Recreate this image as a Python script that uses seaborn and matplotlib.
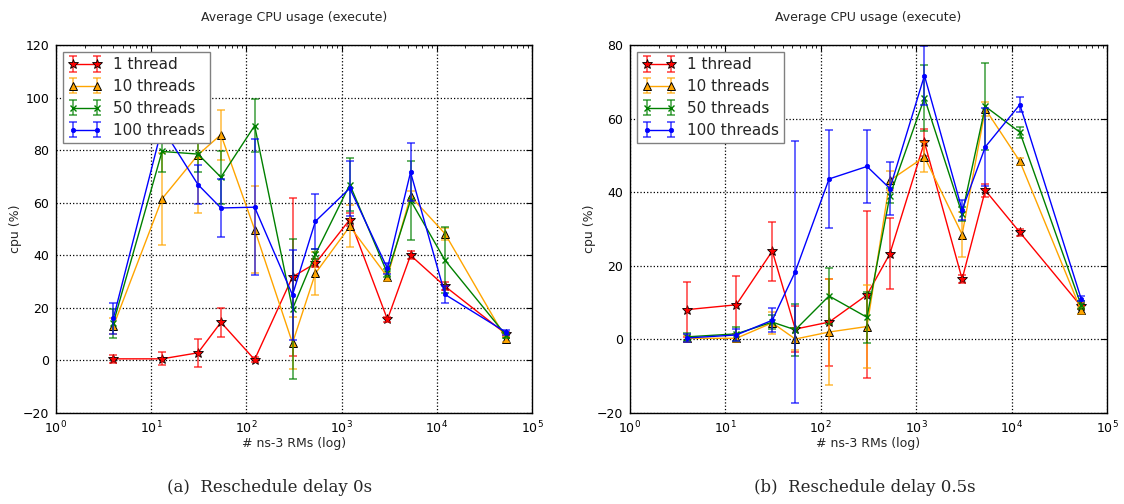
import numpy as np
import pandas as pd
import matplotlib
matplotlib.use("Agg")
import matplotlib.pyplot as plt
import seaborn as sns
from matplotlib.ticker import LogLocator, MultipleLocator, NullLocator, NullFormatter

# ---------------- data ----------------
rms = [4, 13, 31, 54, 122, 305, 530, 1220, 3030, 5300, 12200, 53500]
series = ["1 thread", "10 threads", "50 threads", "100 threads"]

# (a) Reschedule delay 0s
cpu0_t1 = [0.6, 0.6, 2.9, 14.5, 0.3, 31.8, 36.9, 53.6, 15.6, 40.0, 28.2, 10.0]
err0_t1 = [1.5, 2.5, 5.4, 5.6, 1.0, 30.0, 1.5, 2.5, 1.0, 1.5, 1.5, 0.8]
cpu0_t10 = [13.0, 61.5, 78.2, 85.9, 49.8, 6.6, 33.1, 51.0, 31.8, 62.5, 48.2, 8.1]
err0_t10 = [3.0, 17.6, 22.0, 9.5, 16.5, 10.0, 8.2, 8.0, 1.5, 2.0, 2.2, 1.0]
cpu0_t50 = [14.2, 79.5, 78.5, 69.7, 89.3, 19.6, 40.4, 66.9, 33.1, 60.9, 38.1, 9.5]
err0_t50 = [5.5, 8.0, 7.0, 10.0, 10.0, 26.5, 2.0, 10.0, 1.5, 15.0, 12.6, 1.0]
cpu0_t100 = [16.0, 88.6, 66.9, 58.0, 58.3, 24.9, 52.9, 65.5, 35.0, 71.6, 25.1, 10.7]
err0_t100 = [6.0, 5.0, 7.5, 11.2, 25.8, 17.0, 10.5, 10.5, 2.0, 11.0, 3.4, 1.0]

# (b) Reschedule delay 0.5s
cpu5_t1 = [8.1, 9.4, 24.0, 2.8, 4.7, 12.1, 23.3, 53.6, 16.4, 40.5, 29.1, 9.0]
err5_t1 = [7.5, 7.8, 8.0, 6.3, 11.8, 22.7, 9.6, 3.7, 1.0, 1.7, 1.0, 0.8]
cpu5_t10 = [0.3, 0.3, 4.5, 0.1, 2.0, 3.5, 43.2, 49.6, 28.5, 62.6, 48.4, 7.9]
err5_t10 = [1.0, 1.0, 3.0, 3.0, 14.5, 11.3, 2.5, 4.0, 6.0, 2.0, 1.0, 1.0]
cpu5_t50 = [0.7, 1.5, 4.7, 2.6, 11.8, 6.0, 39.1, 65.6, 34.1, 63.3, 56.3, 9.3]
err5_t50 = [1.0, 2.0, 2.0, 7.0, 7.5, 7.0, 2.0, 9.0, 2.0, 11.7, 1.5, 1.0]
cpu5_t100 = [0.4, 1.2, 5.2, 18.4, 43.6, 47.0, 41.0, 71.7, 35.2, 52.3, 63.8, 11.1]
err5_t100 = [1.0, 1.5, 3.2, 35.6, 13.2, 9.9, 7.1, 8.0, 2.8, 10.5, 2.0, 0.8]

title = "Average CPU usage (execute)"
xlabel = "# ns-3 RMs (log)"
ylabel = "cpu (%)"
caption_a = "(a)  Reschedule delay 0s"
caption_b = "(b)  Reschedule delay 0.5s"

# ---------------- style ----------------
sns.set_style("white")
plt.rcParams["font.family"] = ["DejaVu Sans"]
plt.rcParams["mathtext.default"] = "regular"

styles = [
    dict(color="#ff0000", marker="*", ms=7, mec="black", mew=0.6),
    dict(color="#ffa500", marker="^", ms=6, mec="black", mew=0.7),
    dict(color="#008000", marker="x", ms=5, mec="#008000", mew=1.0),
    dict(color="#0000ff", marker="o", ms=3.2, mec="#0000ff", mew=0.5),
]

fig = plt.figure(figsize=(11.24, 5.04), dpi=100)
axL = fig.add_axes([56 / 1124, 1 - 413 / 504, 476 / 1124, 368 / 504])
axR = fig.add_axes([630 / 1124, 1 - 413 / 504, 477 / 1124, 368 / 504])


def panel(ax, means, errs, ylim, ystep):
    ax.set_xscale("log")
    handles = []
    for name, m, e, st in zip(series, means, errs, styles):
        df = pd.DataFrame({"rms": rms, "cpu": m})
        sns.lineplot(data=df, x="rms", y="cpu", ax=ax, color=st["color"],
                     marker=st["marker"], markersize=st["ms"],
                     markeredgecolor=st["mec"], markeredgewidth=st["mew"],
                     linewidth=1.0, legend=False, sort=True)
        line = ax.lines[-1]
        eb = ax.errorbar(rms, m, yerr=e, fmt="none", ecolor=st["color"],
                         elinewidth=1.2, capsize=3, capthick=1.2, alpha=0.7)
        handles.append((eb, line))
    ax.set_xlim(1, 1e5)
    ax.set_ylim(*ylim)
    ax.yaxis.set_major_locator(MultipleLocator(ystep))
    ax.yaxis.set_minor_locator(NullLocator())
    ax.xaxis.set_major_locator(LogLocator(base=10, numticks=10))
    ax.xaxis.set_minor_locator(LogLocator(base=10, subs=np.arange(2, 10), numticks=20))
    ax.xaxis.set_minor_formatter(NullFormatter())
    ax.grid(True, which="major", linestyle=":", color="black", linewidth=0.9)
    ax.set_axisbelow(True)
    ax.tick_params(which="both", direction="in", top=True, right=True,
                   labelsize=9, colors="black")
    ax.tick_params(which="major", length=4, width=0.8, pad=5)
    ax.tick_params(which="minor", length=2, width=0.6)
    for s in ax.spines.values():
        s.set_visible(True)
        s.set_color("black")
        s.set_linewidth(1.0)
    ax.set_title(title, fontsize=9, pad=17)
    ax.set_xlabel(xlabel, fontsize=9, labelpad=0.5)
    ax.set_ylabel(ylabel, fontsize=9, labelpad=0.5)
    leg = ax.legend(handles, series, loc="upper left", numpoints=2,
                    fontsize=11, handlelength=2.2, handletextpad=0.7,
                    labelspacing=0.45, borderpad=0.35, borderaxespad=0.45,
                    frameon=True, fancybox=False, framealpha=1.0)
    leg.get_frame().set_edgecolor("0.5")
    leg.get_frame().set_linewidth(1.0)


panel(axL, [cpu0_t1, cpu0_t10, cpu0_t50, cpu0_t100],
      [err0_t1, err0_t10, err0_t50, err0_t100], (-20, 120), 20)
panel(axR, [cpu5_t1, cpu5_t10, cpu5_t50, cpu5_t100],
      [err5_t1, err5_t10, err5_t50, err5_t100], (-20, 80), 20)

fig.text(270 / 1124, 1 - 488 / 504, caption_a, ha="center", va="center",
         fontsize=12, family="DejaVu Serif")
fig.text(865 / 1124, 1 - 488 / 504, caption_b, ha="center", va="center",
         fontsize=12, family="DejaVu Serif")

fig.savefig("out.png", dpi=100)
